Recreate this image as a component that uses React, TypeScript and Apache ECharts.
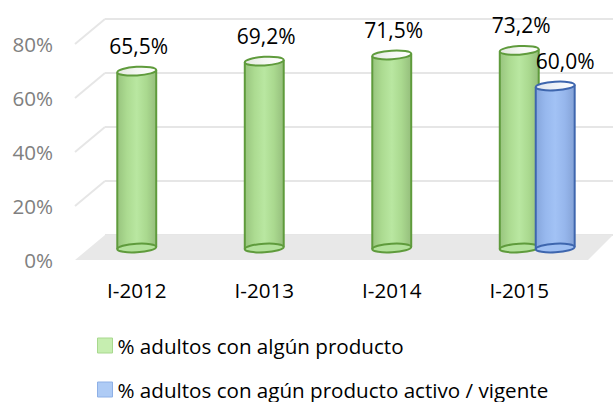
import React, { useEffect, useRef } from "react";
import * as echarts from "echarts";

const categories = ["I-2012", "I-2013", "I-2014", "I-2015"];
const seriesNames = [
  "% adultos con algún producto",
  "% adultos con agún producto activo / vigente",
];
const productValues: (number | null)[] = [65.5, 69.2, 71.5, 73.2];
const activeValues: (number | null)[] = [null, null, null, 60.0];
const yTicks = [0, 20, 40, 60, 80];

const FONT = '"Open Sans", "Liberation Sans", sans-serif';
const FS = 20.6;
const fmt = (v: number) => v.toFixed(1).replace(".", ",") + "%";

type CylStyle = {
  offset: number;
  labelDx: number;
  stroke: string;
  body: string[];
  bottom: string;
  top: string[];
};

const greenStyle: CylStyle = {
  offset: 0,
  labelDx: 2,
  stroke: "#5f9b3c",
  body: ["#98c47e", "#acdb91", "#b9e7a1", "#aad98f", "#95be7c"],
  bottom: "#b2e19a",
  top: ["#e3e9df", "#f4f7f2", "#ffffff"],
};
const blueStyle: CylStyle = {
  offset: 0.282,
  labelDx: 10,
  stroke: "#3e66ae",
  body: ["#86a6dc", "#97b8ee", "#a2c2f5", "#96b6ec", "#84a2d6"],
  bottom: "#9ebff3",
  top: ["#e0e6ef", "#eef2f8", "#ffffff"],
};

const stops = (cols: string[]) =>
  cols.map((c, i) => ({ offset: i / (cols.length - 1), color: c }));

const makeCylinder = (st: CylStyle) => (params: any, api: any) => {
  const idx = api.value(0);
  const v = api.value(1);
  const top = api.coord([idx, v]);
  const base = api.coord([idx, 0]);
  const band = api.size([1, 0])[0];
  const w = band * 0.306;
  const rx = w / 2;
  const ry = 4.3;
  const cx = top[0] + band * st.offset;
  const rot = 0.06;
  const dxr = rx * Math.cos(rot);
  const dyr = rx * Math.sin(rot);
  const lw = 2;
  return {
    type: "group",
    children: [
      {
        type: "polygon",
        shape: {
          points: [
            [cx - dxr, top[1] + dyr],
            [cx + dxr, top[1] - dyr],
            [cx + dxr, base[1] - dyr],
            [cx - dxr, base[1] + dyr],
          ],
        },
        style: {
          fill: {
            type: "linear",
            x: 0,
            y: 0,
            x2: 1,
            y2: 0,
            colorStops: stops(st.body),
          },
        },
      },
      {
        type: "ellipse",
        x: cx,
        y: base[1],
        rotation: rot,
        shape: { cx: 0, cy: 0, rx, ry },
        style: { fill: st.bottom, stroke: st.stroke, lineWidth: lw },
      },
      {
        type: "line",
        shape: { x1: cx - dxr, y1: top[1] + dyr, x2: cx - dxr, y2: base[1] + dyr },
        style: { stroke: st.stroke, lineWidth: lw },
      },
      {
        type: "line",
        shape: { x1: cx + dxr, y1: top[1] - dyr, x2: cx + dxr, y2: base[1] - dyr },
        style: { stroke: st.stroke, lineWidth: lw },
      },
      {
        type: "ellipse",
        x: cx,
        y: top[1],
        rotation: rot,
        shape: { cx: 0, cy: 0, rx, ry },
        style: {
          fill: {
            type: "linear",
            x: 0,
            y: 0,
            x2: 1,
            y2: 0,
            colorStops: stops(st.top),
          },
          stroke: st.stroke,
          lineWidth: lw,
        },
      },
      {
        type: "text",
        x: cx + st.labelDx,
        y: top[1] - 25,
        style: {
          text: fmt(v),
          fill: "#000000",
          fontSize: 21,
          fontFamily: FONT,
          align: "center",
          verticalAlign: "middle",
        },
      },
    ],
  };
};

const toData = (vals: (number | null)[]) =>
  vals
    .map((v, i) => (v == null ? null : [i, v]))
    .filter((d) => d != null) as number[][];

const legendBase = {
  orient: "vertical",
  left: 97,
  padding: 0,
  itemWidth: 15,
  itemHeight: 15,
  icon: "rect",
  selectedMode: false,
  textStyle: { fontSize: FS, color: "#000000", fontFamily: FONT, lineHeight: 20 },
};

export default function App() {
  const ref = useRef<HTMLDivElement>(null);
  useEffect(() => {
    document.body.style.margin = "0";
    if (!ref.current) return;
    const chart = echarts.init(ref.current, undefined, { renderer: "svg" });
    const FRONT_DX = -30;
    const FRONT_DX_R = -25;
    const FRONT_DY = 25;
    chart.setOption({
      animation: false,
      backgroundColor: "#ffffff",
      textStyle: { fontFamily: FONT },
      legend: [
        {
          ...legendBase,
          top: 335,
          data: [
            { name: seriesNames[0], itemStyle: { color: "#c6eeb0", borderColor: "#a8d88e", borderWidth: 1 } },
          ],
        },
        {
          ...legendBase,
          top: 379,
          data: [
            { name: seriesNames[1], itemStyle: { color: "#aecbf5", borderColor: "#8eb0e6", borderWidth: 1 } },
          ],
        },
      ],
      grid: [
        { left: 73, right: 30, top: 44, height: 216 },
        { left: 105, right: 0, top: 19, height: 216 },
        { left: 73, right: 30, top: 32, height: 216 },
      ],
      xAxis: [
        {
          gridIndex: 0,
          type: "category",
          data: categories,
          axisLine: { show: false },
          axisTick: { show: false },
          axisLabel: { fontSize: FS, color: "#000000", margin: 19, fontFamily: FONT },
        },
        { gridIndex: 1, type: "value", min: 0, max: 1, show: false },
        { gridIndex: 2, type: "category", data: categories, show: false },
      ],
      yAxis: [
        {
          gridIndex: 0,
          type: "value",
          min: 0,
          max: 80,
          interval: 20,
          axisLine: { show: false },
          axisTick: { show: false },
          splitLine: { show: false },
          axisLabel: { formatter: "{value}%", fontSize: FS, color: "#808080", margin: 20, fontFamily: FONT },
        },
        {
          gridIndex: 1,
          type: "value",
          min: 0,
          max: 80,
          interval: 20,
          axisLine: { show: false },
          axisTick: { show: false },
          axisLabel: { show: false },
          splitLine: { lineStyle: { color: "#e6e6e6", width: 2 } },
        },
        { gridIndex: 2, type: "value", min: 0, max: 80, show: false },
      ],
      series: [
        {
          type: "custom",
          name: "floor",
          xAxisIndex: 1,
          yAxisIndex: 1,
          silent: true,
          z: 1,
          data: [[0, 0]],
          renderItem: (params: any, api: any) => {
            const bl = api.coord([0, 0]);
            const br = api.coord([1, 0]);
            return {
              type: "polygon",
              shape: {
                points: [
                  bl,
                  br,
                  [br[0] + FRONT_DX_R, br[1] + FRONT_DY],
                  [bl[0] + FRONT_DX, bl[1] + FRONT_DY],
                ],
              },
              style: { fill: "#e8e8e8" },
            };
          },
        },
        {
          type: "custom",
          name: "sidewall",
          xAxisIndex: 1,
          yAxisIndex: 1,
          silent: true,
          z: 1,
          data: yTicks.filter((t) => t > 0).map((t) => [0, t]),
          renderItem: (params: any, api: any) => {
            const p = api.coord([0, api.value(1)]);
            return {
              type: "line",
              shape: { x1: p[0] + FRONT_DX, y1: p[1] + FRONT_DY, x2: p[0], y2: p[1] },
              style: { stroke: "#e6e6e6", lineWidth: 2 },
            };
          },
        },
        {
          type: "custom",
          name: seriesNames[0],
          xAxisIndex: 2,
          yAxisIndex: 2,
          z: 3,
          itemStyle: { color: "#c6eeb0" },
          encode: { x: 0, y: 1 },
          data: toData(productValues),
          renderItem: makeCylinder(greenStyle),
        },
        {
          type: "custom",
          name: seriesNames[1],
          xAxisIndex: 2,
          yAxisIndex: 2,
          z: 4,
          itemStyle: { color: "#aecbf5" },
          encode: { x: 0, y: 1 },
          data: toData(activeValues),
          renderItem: makeCylinder(blueStyle),
        },
      ],
    });
    return () => chart.dispose();
  }, []);
  return <div ref={ref} style={{ width: 613, height: 402 }} />;
}
